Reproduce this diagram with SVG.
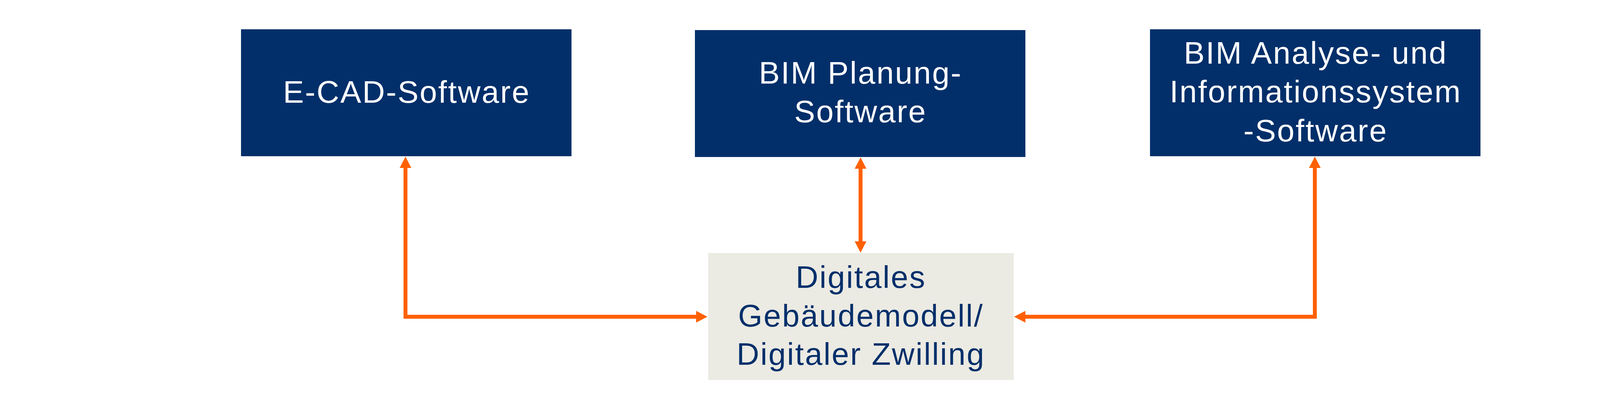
<svg xmlns="http://www.w3.org/2000/svg" width="4400" height="1037" viewBox="0 0 4400 1037">
  <style>
    .box { fill: #022F6A; }
    .box2 { fill: #EBEAE3; }
    .lbl { font-family: "Liberation Sans", Arial, sans-serif; font-size: 80px; letter-spacing: 3px; text-anchor: middle; }
    .w { fill: #FFFFFF; }
    .n { fill: #022F6A; }
    .con { fill: none; stroke: #FF6000; stroke-width: 10; stroke-linejoin: miter; marker-start: url(#arr); marker-end: url(#arr); }
  </style>
  <defs>
    <marker id="arr" viewBox="0 0 29 30" markerWidth="29" markerHeight="30" refX="1" refY="15" markerUnits="userSpaceOnUse" orient="auto-start-reverse">
      <path d="M0,0 L29,15 L0,30 Z" fill="#FF6000"/>
    </marker>
  </defs>
  <rect width="4400" height="1037" fill="#FFFFFF"/>

  <g id="connectors">
    <path class="con" d="M1038,429 V811 H1783"/>
    <path class="con" d="M2203,431 V619"/>
    <path class="con" d="M3366,429 V811 H2624"/>
  </g>

  <g id="ecad">
    <rect class="box" x="617" y="75" width="846" height="325"/>
    <text class="lbl w" x="1041" y="263">E-CAD-Software</text>
  </g>

  <g id="bimplanung">
    <rect class="box" x="1779" y="77" width="846" height="325"/>
    <text class="lbl w" x="2203" y="214">BIM Planung-</text>
    <text class="lbl w" x="2203" y="313">Software</text>
  </g>

  <g id="bimanalyse">
    <rect class="box" x="2944" y="75" width="846" height="325"/>
    <text class="lbl w" x="3368" y="163">BIM Analyse- und</text>
    <text class="lbl w" x="3368" y="262">Informationssystem</text>
    <text class="lbl w" x="3368" y="362">-Software</text>
  </g>

  <g id="digitalesmodell">
    <rect class="box2" x="1813" y="648" width="782" height="325"/>
    <text class="lbl n" x="2204" y="737">Digitales</text>
    <text class="lbl n" x="2204" y="836">Gebäudemodell/</text>
    <text class="lbl n" x="2204" y="934">Digitaler Zwilling</text>
  </g>
</svg>
